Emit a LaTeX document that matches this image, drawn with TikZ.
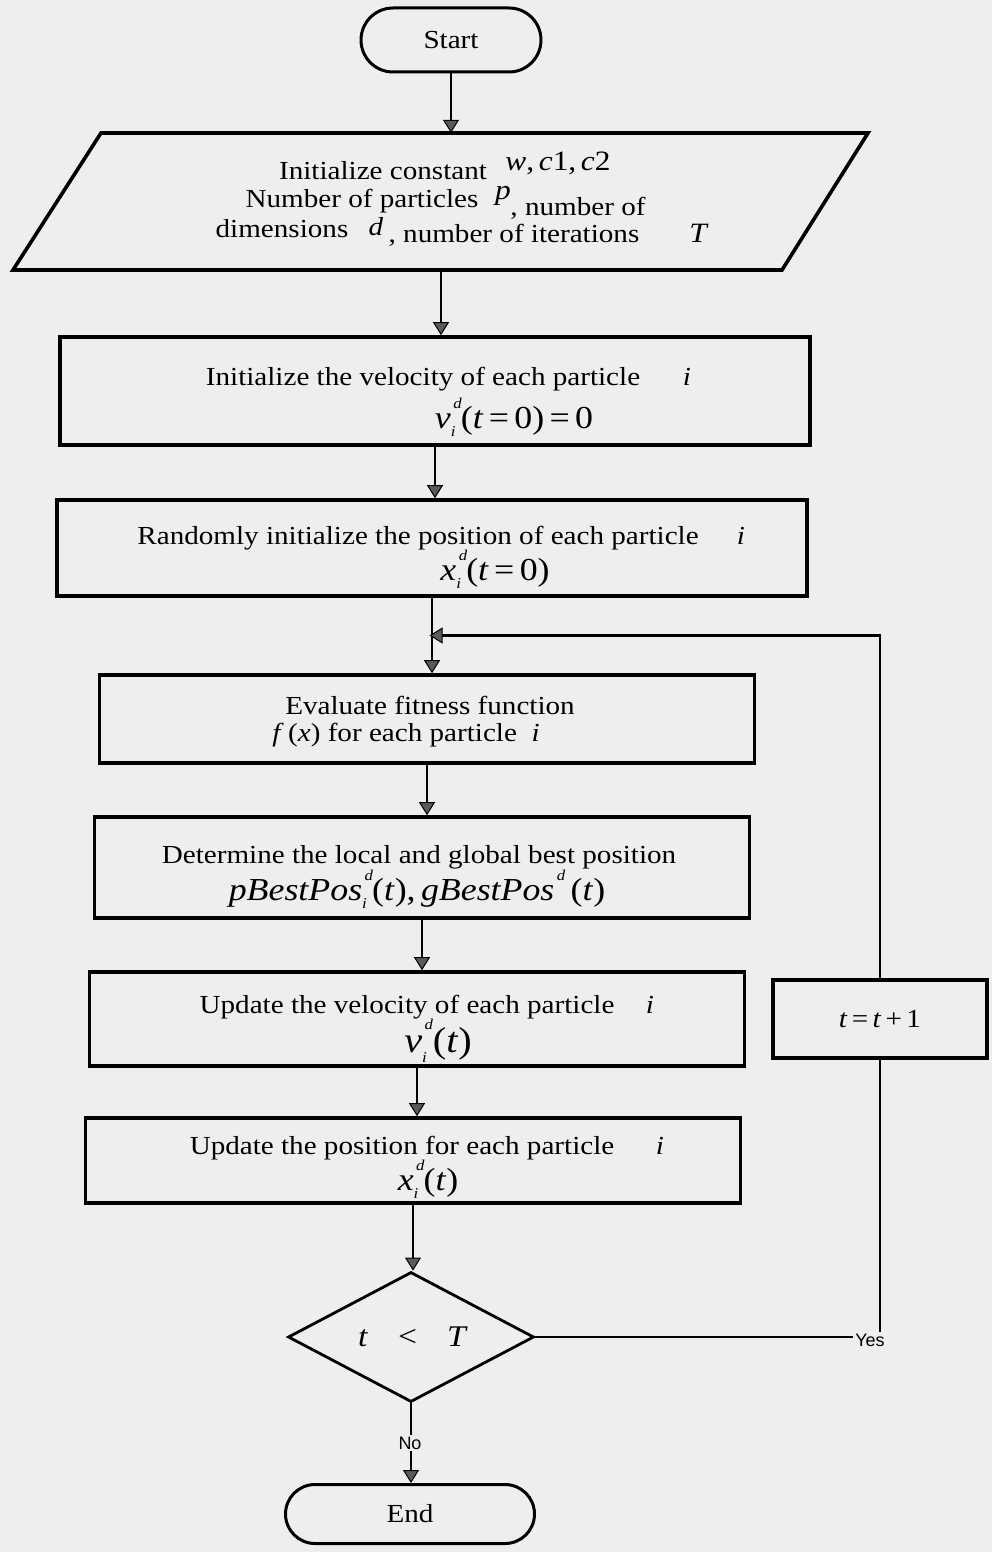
\documentclass[tikz,border=0pt]{standalone}
\usepackage{fontspec}
\setmainfont{Liberation Serif}[FakeStretch=1.12]
\newfontfamily\labfont{Liberation Sans}
\usetikzlibrary{arrows.meta,shapes.geometric,shapes.misc,calc}
\definecolor{paper}{RGB}{238,238,236}
\definecolor{tipgray}{RGB}{90,90,90}
\newcommand{\IdxSS}[2]{\makebox[0pt][l]{\raisebox{0.62em}{\fontsize{15}{15}\selectfont\itshape\,#1}}\raisebox{-0.28em}{\fontsize{15}{15}\selectfont\itshape #2}}
\newcommand{\IdxSup}[1]{\raisebox{0.62em}{\fontsize{15}{15}\selectfont\itshape\,#1}}
\begin{document}
\begin{tikzpicture}[x=1pt,y=-1pt,
  box/.style={draw, line width=3.6pt, inner sep=0pt},
  term/.style={draw, line width=3pt, rounded rectangle, inner sep=0pt, font=\fontsize{26}{30}\selectfont},
  txt/.style={inner sep=0pt, anchor=base, font=\fontsize{26}{30}\selectfont},
  frm/.style={inner sep=0pt, anchor=base, font=\fontsize{32}{36}\selectfont},
  lab/.style={inner sep=2pt, font=\labfont\fontsize{18}{20}\selectfont},
  arr/.style={line width=2.6pt, -{Triangle[length=13pt,width=16pt,fill=tipgray,line width=1pt]}},
  con/.style={line width=2.6pt},
]
\fill[paper] (0,0) rectangle (992,1552);
\useasboundingbox (0,0) rectangle (992,1552);

% Start
\node[term, minimum width=180pt, minimum height=64pt] (start) at (451,40) {Start};

% Parallelogram (input)
\node[inner sep=0pt, minimum width=767pt, minimum height=137pt] (init) at (441,201.5) {};
\draw[line width=3.6pt, line join=miter] (101,133) -- (868,133) -- (782,270) -- (13,270) -- cycle;
\node[txt] (c1) at (383,179) {Initialize constant};
\node[txt] (c2) at (558,170) {\fontsize{28}{30}\selectfont\textit{w},\,\textit{c}1,\,\textit{c}2};
\node[txt] (c3) at (362,207) {Number of particles};
\node[txt] (c4) at (503,199) {\fontsize{28}{30}\selectfont\textit{p}};
\node[txt] (c5) at (578,215) {, number of};
\node[txt] (c6) at (282,237) {dimensions};
\node[txt] (c7) at (376,235) {\textit{d}};
\node[txt] (c8) at (514,242) {, number of iterations};
\node[txt] (c9) at (699,242) {\fontsize{28}{30}\selectfont\textit{T}};

% Initialize velocity
\node[box, minimum width=750pt, minimum height=108pt] (vel) at (435,391) {};
\node[txt] (t2a) at (423,385) {Initialize the velocity of each particle};
\node[txt] (t2b) at (687,385) {\textit{i}};
\node[frm] (t2c) at (514,428) {\textit{v}\IdxSS{d}{i}\,(\textit{t}\,=\,0)\,=\,0};

% Random position
\node[box, minimum width=750pt, minimum height=96pt] (pos) at (432,548) {};
\node[txt] (t3a) at (418,544) {Randomly initialize the position of each particle};
\node[txt] (t3b) at (741,544) {\textit{i}};
\node[frm] (t3c) at (495,580) {\textit{x}\IdxSS{d}{i}\,(\textit{t}\,=\,0)};

% Evaluate
\node[box, minimum width=655pt, minimum height=88pt] (eval) at (427,719) {};
\node[txt] (t4a) at (430,714) {Evaluate fitness function};
\node[txt] (t4b) at (406,741) {\textit{f}\,(\textit{x}) for each particle\ \ \textit{i}};

% Best positions
\node[box, minimum width=655pt, minimum height=101pt] (best) at (422,867.5) {};
\node[txt] (t5a) at (419,863) {Determine the local and global best position};
\node[frm] (t5b) at (417,900) {\textit{pBestPos}\IdxSS{d}{i}\,(\textit{t}),\,\textit{gBestPos}\IdxSup{d}\,(\textit{t})};

% Update velocity
\node[box, minimum width=655pt, minimum height=94pt] (upv) at (417,1019) {};
\node[txt] (t6a) at (407,1013) {Update the velocity of each particle};
\node[txt] (t6b) at (650,1013) {\textit{i}};
\node[frm] (t6c) at (438,1052) {\fontsize{36}{40}\selectfont\textit{v}\IdxSS{d}{i}\,(\textit{t})};

% Update position
\node[box, minimum width=655pt, minimum height=85pt] (upx) at (413,1160.5) {};
\node[txt] (t7a) at (402,1154) {Update the position for each particle};
\node[txt] (t7b) at (660,1154) {\textit{i}};
\node[frm] (t7c) at (428,1190) {\textit{x}\IdxSS{d}{i}\,(\textit{t})};

% t = t+1
\node[box, minimum width=214pt, minimum height=78pt, font=\fontsize{26}{30}\selectfont] (tinc) at (880,1019) {\textit{t}\,=\,\textit{t}\,+\,1};

% Decision
\node[diamond, draw, line width=2.8pt, minimum width=246pt, minimum height=130pt, inner sep=0pt] (cond) at (411,1337) {};
\node[txt] (condtxt) at (413,1346) {\fontsize{30}{32}\selectfont\textit{t}\quad<\quad\textit{T}};

% Labels
\node[lab] (yes) at (870,1340) {Yes};
\node[lab] (no) at (410,1443) {No};

% End
\node[term, minimum width=249pt, minimum height=59pt] (end) at (410,1514) {End};

% Connectors
\draw[arr] (start.south) -- (start.south |- init.north);
\draw[arr] (init.south) -- (init.south |- vel.north);
\draw[arr] (vel.south) -- (vel.south |- pos.north);
\draw[arr] (pos.south) -- (pos.south |- eval.north);
\draw[arr] (eval.south) -- (eval.south |- best.north);
\draw[arr] (best.south) -- (best.south |- upv.north);
\draw[arr] (upv.south) -- (upv.south |- upx.north);
\draw[arr] (upx.south) -- (upx.south |- cond.north);
\draw[con] (cond.south) -- (cond.south |- no.north);
\draw[arr] (cond.south |- no.south) -- (cond.south |- end.north);
\draw[con] (cond.east) -- (cond.east -| yes.west);
\draw[con] (tinc.south) -- (tinc.south |- yes.north);
\draw[arr] (tinc.north) |- ($(pos.south)!0.5!(eval.north)$);
\end{tikzpicture}
\end{document}
